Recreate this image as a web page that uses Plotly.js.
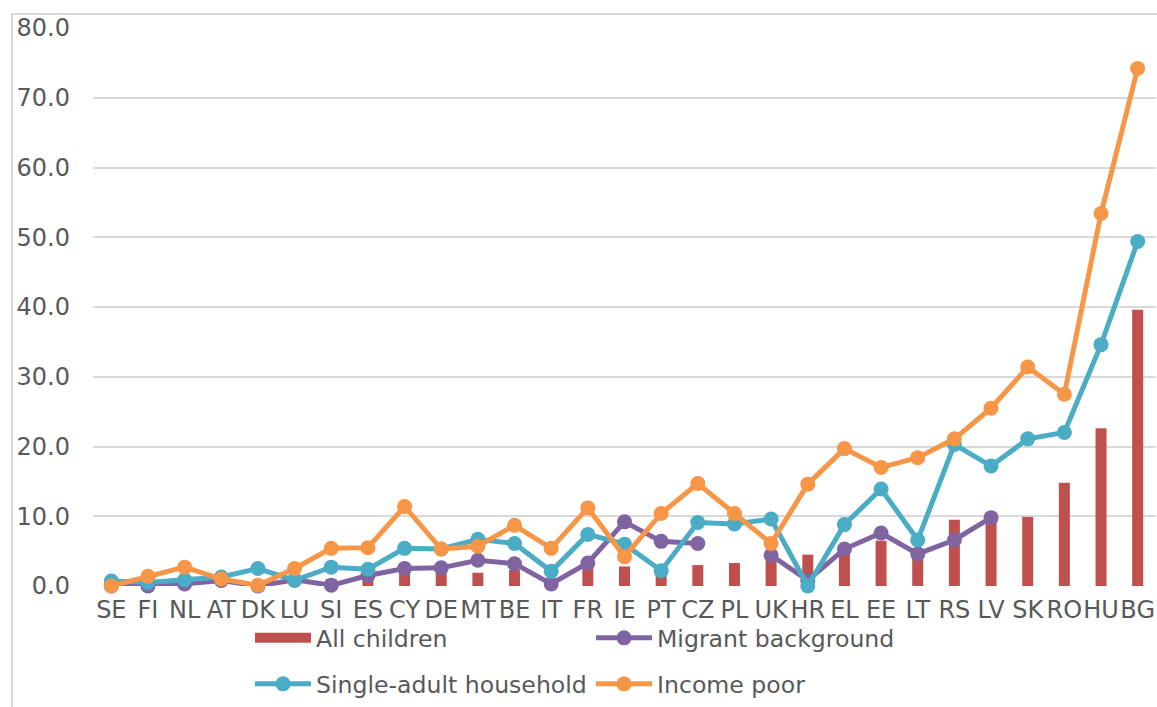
<!DOCTYPE html>
<html>
<head>
<meta charset="utf-8">
<script src="https://cdn.plot.ly/plotly-3.0.1.min.js"></script>
<style>
  body { margin: 0; background: #fff; }
  #frame { position: absolute; left: 11px; top: 13px; width: 1200px; height: 800px; border: 2px solid #d9d9d9; box-sizing: border-box; }
  #chart { position: absolute; left: 0; top: 0; width: 1157px; height: 707px; }
</style>
</head>
<body>
<div id="frame"></div>
<div id="chart"></div>
<script>
// country codes along the x axis
const countries = ["SE", "FI", "NL", "AT", "DK", "LU", "SI", "ES", "CY", "DE", "MT", "BE", "IT", "FR", "IE",
  "PT", "CZ", "PL", "UK", "HR", "EL", "EE", "LT", "RS", "LV", "SK", "RO", "HU", "BG"];

// values (%)
const allChildren = [0.0, 0.0, 0.0, 0.0, 0.0, 0.2, 1.0, 1.6, 2.1, 2.0, 1.9, 2.3, 0.4, 2.8, 2.8,
  1.9, 3.0, 3.3, 4.0, 4.5, 4.9, 6.5, 4.3, 9.5, 9.2, 9.9, 14.8, 22.6, 39.6];
const migrant = [0.0, 0.0, 0.3, 0.8, 0.0, 0.9, 0.1, 1.5, 2.5, 2.6, 3.7, 3.2, 0.3, 3.3, 9.2,
  6.4, 6.1, null, 4.4, 0.8, 5.3, 7.6, 4.6, 6.6, 9.8, null, null, null, null];
const singleAdult = [0.7, 0.5, 0.9, 1.3, 2.5, 0.8, 2.7, 2.4, 5.4, 5.3, 6.7, 6.1, 2.1, 7.4, 6.0,
  2.2, 9.1, 8.9, 9.6, 0.0, 8.8, 13.9, 6.6, 20.3, 17.2, 21.1, 22.0, 34.6, 49.4];
const incomePoor = [0.0, 1.4, 2.7, 1.0, 0.1, 2.5, 5.4, 5.5, 11.4, 5.3, 5.7, 8.7, 5.4, 11.2, 4.2,
  10.4, 14.7, 10.4, 6.1, 14.6, 19.7, 17.0, 18.4, 21.1, 25.5, 31.4, 27.5, 53.4, 74.2];

const tickVals = [0, 10, 20, 30, 40, 50, 60, 70, 80];

function lineTrace(name, values, color, legend) {
  return {
    x: countries, y: values, name: name, type: "scatter", mode: "lines+markers",
    line: { color: color, width: 5 },
    marker: { color: color, size: 15 },
    connectgaps: false, cliponaxis: false, legend: legend
  };
}

// legend-only entry so the key shows a wide red block like the original
const barKey = {
  x: [null], y: [null], name: "All children", type: "scatter", mode: "lines",
  line: { color: "#C0504D", width: 14 }, legend: "legend", hoverinfo: "skip"
};

const bars = {
  x: countries, y: allChildren, name: "All children", type: "bar",
  marker: { color: "#C0504D" }, showlegend: false
};

const data = [
  barKey,
  bars,
  lineTrace("Migrant background", migrant, "#8064A2", "legend"),
  lineTrace("Single-adult household", singleAdult, "#4BACC6", "legend2"),
  lineTrace("Income poor", incomePoor, "#F79646", "legend2")
];

const legendBase = {
  orientation: "h", xref: "container", yref: "container",
  xanchor: "left", yanchor: "middle", itemwidth: 56, entrywidth: 270,
  font: { family: "DejaVu Sans, Verdana, sans-serif", size: 23.6, color: "#595959" },
  bgcolor: "rgba(0,0,0,0)", traceorder: "normal"
};

const layout = {
  width: 1157, height: 707,
  margin: { l: 93, r: 1, t: 28, b: 121 },
  paper_bgcolor: "rgba(0,0,0,0)", plot_bgcolor: "rgba(0,0,0,0)",
  font: { family: "DejaVu Sans, Verdana, sans-serif", size: 24, color: "#595959" },
  bargap: 0.7,
  showlegend: true,
  xaxis: { type: "category", range: [-0.5, countries.length - 0.5], showgrid: false,
    zeroline: false, showline: false, ticks: "", tickangle: 0, tickfont: { size: 24 },
    automargin: false, ticklabelstandoff: 7 },
  yaxis: { range: [0, 80], tickvals: tickVals, tickformat: ".1f", showgrid: true,
    gridcolor: "#d9d9d9", gridwidth: 2, zeroline: false, showline: false, ticks: "",
    ticklabelstandoff: 22, automargin: false },
  legend: Object.assign({}, legendBase, { x: 250 / 1157, y: 1 - 638 / 707 }),
  legend2: Object.assign({}, legendBase, { x: 250 / 1157, y: 1 - 684 / 707 })
};

Plotly.newPlot("chart", data, layout, { displayModeBar: false, staticPlot: true });
</script>
</body>
</html>
